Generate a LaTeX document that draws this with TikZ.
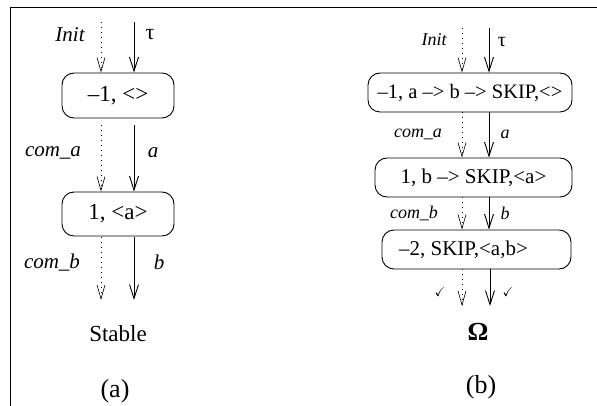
\documentclass[tikz,border=0pt]{standalone}
\usepackage{fontspec}
\setmainfont{Liberation Serif}
\usepackage{amssymb}
\usetikzlibrary{arrows.meta}
\newcommand\fsz[1]{\fontsize{#1}{#1}\selectfont}
\begin{document}
\begin{tikzpicture}[x=1pt,y=-1pt,
  state/.style={draw, line width=0.9pt, rounded corners=12pt, inner sep=0pt},
  ev/.style={line width=0.9pt, -{Straight Barb[length=14pt,width=9pt,line width=0.9pt]}},
  hid/.style={line width=0.9pt, dash pattern=on 1pt off 4pt, -{Straight Barb[length=14pt,width=8pt,line width=0.6pt]}},
  lbl/.style={inner sep=0pt, font=\itshape\fsz{21}},
  lblb/.style={inner sep=0pt, font=\itshape\fsz{18}},
  txt/.style={inner sep=0pt}]
\useasboundingbox (0,0) rectangle (597,406);
% frame
\draw[line width=1pt] (10.5,406) -- (10.5,8) -- (597,8);

% ---------- (a) ----------
\coordinate (dA) at (101,0);
\coordinate (sA) at (134,0);
\node[state, minimum width=112pt, minimum height=45pt, font=\fsz{23}] (a1) at (118,95.5) {–1, <>};
\node[state, minimum width=112pt, minimum height=44pt, font=\fsz{23}] (a2) at (118,214) {1, <a>};
\coordinate (a0d) at (101,22);
\coordinate (a0s) at (134,22);
\coordinate (a3d) at (101,300);
\coordinate (a3s) at (134,300);
\draw[hid] (a0d) -- (a1.north -| dA);
\draw[ev] (a0s) -- (a1.north -| sA);
\draw[hid, shorten <=7pt] (a1.south -| dA) -- (a2.north -| dA);
\draw[ev, shorten <=7pt] (a1.south -| sA) -- (a2.north -| sA);
\draw[hid, shorten <=1pt] (a2.south -| dA) -- (a3d);
\draw[ev, shorten <=1pt] (a2.south -| sA) -- (a3s);
\node[lbl] (ainit) at (70,35) {Init};
\node[txt, font=\fsz{22}] (atau) at (150,35) {τ};
\node[lbl] (acoma) at (53,153) {com\_a};
\node[lbl] (aa) at (153,153) {a};
\node[lbl] (acomb) at (52,263) {com\_b};
\node[lbl] (ab) at (159,262) {b};
\node[txt, font=\fsz{23}] (astable) at (118,334) {Stable};
\node[txt, font=\fsz{26}] (acap) at (115,391) {(a)};

% ---------- (b) ----------
\coordinate (dB) at (462,0);
\coordinate (sB) at (489,0);
\node[state, minimum width=204pt, minimum height=39pt, font=\fsz{20.5}] (b1) at (470,92.5) {–1, a –> b –> SKIP,<>};
\node[state, minimum width=197pt, minimum height=39pt, font=\fsz{21}] (b2) at (473.5,177.5) {1, b –> SKIP,<a>};
\node[state, minimum width=189pt, minimum height=39pt, font=\fsz{21}] (b3) at (476.5,249.5) {\hspace{-26pt}–2, SKIP,<a,b>};
\coordinate (b0d) at (462,28);
\coordinate (b0s) at (489,28);
\coordinate (b4d) at (462,306);
\coordinate (b4s) at (490,306);
\draw[hid] (b0d) -- (b1.north -| dB);
\draw[ev] (b0s) -- (b1.north -| sB);
\draw[hid] (b1.south -| dB) -- (b2.north -| dB);
\draw[ev] (b1.south -| sB) -- (b2.north -| sB);
\draw[hid] (b2.south -| dB) -- (b3.north -| dB);
\draw[ev] (b2.south -| sB) -- (b3.north -| sB);
\draw[hid] (b3.south -| dB) -- (b4d);
\draw[ev] (b3.south -| b4s) -- (b4s);
\node[lblb] (binit) at (434,40) {Init};
\node[txt, font=\fsz{20}] (btau) at (502,42) {τ};
\node[lblb] (bcoma) at (418,134) {com\_a};
\node[lblb] (ba) at (505,134) {a};
\node[lblb] (bcomb) at (414,213) {com\_b};
\node[lblb] (bb) at (505,213) {b};
\node[txt, font=\fsz{13}] (bt1) at (440,292) {$\checkmark$};
\node[txt, font=\fsz{13}] (bt2) at (508,292) {$\checkmark$};
\node[txt, font=\bfseries\fsz{26}] (bomega) at (478,332) {Ω};
\node[txt, font=\fsz{26}] (bcap) at (481,387) {(b)};
\end{tikzpicture}
\end{document}
